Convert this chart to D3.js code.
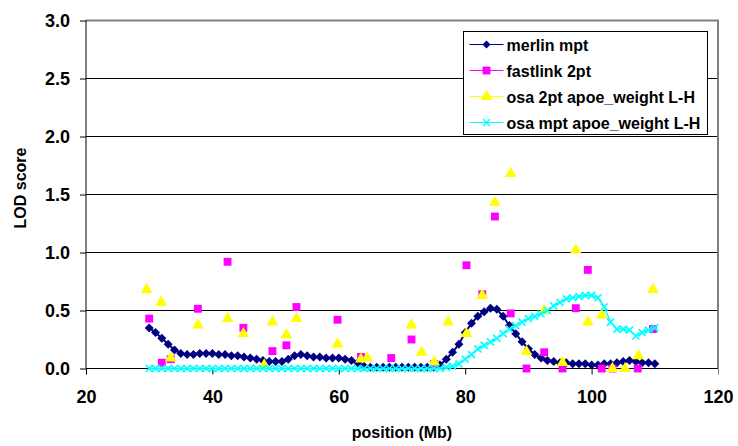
<!DOCTYPE html>
<html lang="en">
<head>
<meta charset="utf-8">
<title>LOD score by position</title>
<script src="https://d3js.org/d3.v7.min.js"></script>
<style>
  html, body { margin: 0; padding: 0; background: #fff; }
  svg { display: block; font-family: "Liberation Sans", Arial, sans-serif; }
  .tick text { font-size: 18px; font-weight: bold; fill: #000; }
</style>
</head>
<body>
<div id="chart"></div>
<script>
  // ---- data ----
  const yTicks = [0, 0.5, 1.0, 1.5, 2.0, 2.5, 3.0];
  const xTicks = [20, 40, 60, 80, 100, 120];

  // 1 Mb grid for the two multipoint curves
  const gridPos = d3.range(30, 111);

  const merlinLod = [
    0.35, 0.31, 0.26, 0.21, 0.16, 0.13, 0.12, 0.12, 0.13, 0.13,
    0.13, 0.12, 0.12, 0.11, 0.11, 0.10, 0.09, 0.08, 0.07, 0.06,
    0.06, 0.06, 0.08, 0.11, 0.12, 0.11, 0.10, 0.10, 0.09, 0.09,
    0.09, 0.08, 0.07, 0.05, 0.02, 0.01, 0.01, 0.01, 0.01, 0.01,
    0.01, 0.01, 0.01, 0.01, 0.01, 0.01, 0.03, 0.08, 0.14, 0.21,
    0.31, 0.39, 0.45, 0.49, 0.52, 0.51, 0.45, 0.37, 0.30, 0.23,
    0.17, 0.12, 0.09, 0.07, 0.06, 0.05, 0.05, 0.04, 0.04, 0.04,
    0.03, 0.03, 0.04, 0.04, 0.05, 0.06, 0.07, 0.06, 0.05, 0.05, 0.04
  ];

  const osaMptLod = [
    0, 0, 0, 0, 0, 0, 0, 0, 0, 0,
    0, 0, 0, 0, 0, 0, 0, 0, 0, 0,
    0, 0, 0, 0, 0, 0, 0, 0, 0, 0,
    0, 0, 0, 0, 0, 0, 0, 0, 0, 0,
    0, 0, 0, 0, 0, 0, 0, 0.01, 0.02, 0.04,
    0.08, 0.12, 0.17, 0.20, 0.23, 0.26, 0.30, 0.34, 0.37, 0.40,
    0.43, 0.45, 0.47, 0.50, 0.54, 0.57, 0.60, 0.61, 0.62, 0.63,
    0.63, 0.61, 0.53, 0.40, 0.34, 0.34, 0.33, 0.28, 0.31, 0.33, 0.35
  ];

  const fastlinkPos = [30, 32, 33.4, 37.7, 42.4, 44.9, 49.5, 51.7, 53.3, 59.8, 63.5, 68.3, 71.5, 75.1,
                       80.2, 82.7, 84.7, 87.2, 89.7, 92.5, 95.4, 97.5, 99.4, 101.6, 103.3, 107.3, 109.7];
  const fastlinkLod = [0.43, 0.05, 0.08, 0.515, 0.92, 0.35, 0.15, 0.20, 0.53, 0.42, 0.10, 0.09, 0.25, 0.04,
                       0.89, 0.64, 1.31, 0.475, 0.0, 0.14, 0.0, 0.52, 0.85, 0.0, 0.0, 0.0, 0.34];

  const osa2ptPos = [29.6, 31.9, 33.4, 37.7, 42.4, 44.9, 48.2, 49.5, 51.7, 53.3, 59.8, 63.5, 64.5, 71.5,
                     73.1, 75.1, 77.3, 80.2, 82.7, 84.7, 87.2, 89.7, 92.5, 95.4, 97.5, 99.4, 101.6,
                     103.3, 105.3, 107.4, 109.7];
  const osa2ptLod = [0.68, 0.57, 0.09, 0.375, 0.43, 0.30, 0.03, 0.40, 0.29, 0.43, 0.21, 0.08, 0.09, 0.375,
                     0.14, 0.055, 0.40, 0.30, 0.63, 1.43, 1.68, 0.145, 0.50, 0.05, 1.02, 0.40, 0.46,
                     0.0, 0.0, 0.11, 0.68];

  const seriesNames = ["merlin mpt", "fastlink 2pt", "osa 2pt apoe_weight L-H", "osa mpt apoe_weight L-H"];
  const seriesColors = ["#000080", "#ff00ff", "#ffff00", "#00ffff"];

  // ---- layout ----
  const width = 738, height = 446;
  const plotLeft = 86, plotRight = 718, plotTop = 20.5, plotBottom = 368.5;

  const svg = d3.select("#chart").append("svg")
    .attr("width", width)
    .attr("height", height);

  const x = d3.scaleLinear().domain([20, 120]).range([plotLeft, plotRight]);
  const y = d3.scaleLinear().domain([0, 3]).range([plotBottom, plotTop]);

  // gridlines
  svg.append("g")
    .selectAll("line")
    .data(yTicks.slice(1, -1))
    .join("line")
      .attr("x1", plotLeft).attr("x2", plotRight)
      .attr("y1", d => y(d)).attr("y2", d => y(d))
      .attr("stroke", "#000").attr("stroke-width", 1);

  // plot border (top/right grey)
  svg.append("path")
    .attr("d", `M${plotLeft},${plotTop}H${plotRight}V${plotBottom}`)
    .attr("fill", "none")
    .attr("stroke", "#808080")
    .attr("stroke-width", 2);

  // axes
  const yAxis = d3.axisLeft(y)
    .tickValues(yTicks)
    .tickSize(6)
    .tickPadding(10)
    .tickFormat(d3.format(".1f"));
  svg.append("g")
    .attr("transform", `translate(${plotLeft},0)`)
    .call(yAxis)
    .call(g => g.select(".domain").attr("d", `M0,${plotBottom}V${plotTop}`));

  const xAxis = d3.axisBottom(x)
    .tickValues(xTicks)
    .tickSize(6)
    .tickPadding(16)
    .tickFormat(d3.format("d"));
  svg.append("g")
    .attr("transform", `translate(0,${plotBottom})`)
    .call(xAxis)
    .call(g => g.select(".domain").attr("d", `M${plotLeft},0H${plotRight}`))
    .call(g => g.selectAll(".tick").filter(d => d === 120).select("line").attr("stroke", "#808080"));

  // titles
  svg.append("text")
    .attr("x", 402).attr("y", 438)
    .attr("text-anchor", "middle")
    .style("font", "bold 16px 'Liberation Sans', Arial, sans-serif")
    .text("position (Mb)");

  svg.append("text")
    .attr("transform", "translate(26,188) rotate(-90)")
    .attr("text-anchor", "middle")
    .style("font", "bold 16px 'Liberation Sans', Arial, sans-serif")
    .text("LOD score");

  // marker helpers
  const diamond = r => `M0,${-r}L${r},0L0,${r}L${-r},0Z`;
  const square = d3.symbol().type(d3.symbolSquare).size(62);
  const triangle = d3.symbol().type(d3.symbolTriangle).size(60);
  const crossPath = "M-3.5,-3.5L3.5,3.5M-3.5,3.5L3.5,-3.5";

  const line = d3.line().x(d => x(d[0])).y(d => y(d[1]));
  const plot = svg.append("g");

  // merlin mpt
  const merlinData = gridPos.map((p, i) => [p, merlinLod[i]]);
  plot.append("path")
    .datum(merlinData)
    .attr("d", line)
    .attr("fill", "none")
    .attr("stroke", seriesColors[0])
    .attr("stroke-width", 2);
  plot.append("g")
    .selectAll("path")
    .data(merlinData)
    .join("path")
      .attr("transform", d => `translate(${x(d[0])},${y(d[1])})`)
      .attr("d", diamond(4.5))
      .attr("fill", seriesColors[0]);

  // fastlink 2pt
  plot.append("g")
    .selectAll("path")
    .data(fastlinkPos.map((p, i) => [p, fastlinkLod[i]]))
    .join("path")
      .attr("transform", d => `translate(${x(d[0])},${y(d[1])})`)
      .attr("d", square)
      .attr("fill", seriesColors[1]);

  // osa 2pt
  plot.append("g")
    .selectAll("path")
    .data(osa2ptPos.map((p, i) => [p, osa2ptLod[i]]))
    .join("path")
      .attr("transform", d => `translate(${x(d[0])},${y(d[1])})`)
      .attr("d", triangle)
      .attr("fill", seriesColors[2]);

  // osa mpt
  const osaMptData = gridPos.map((p, i) => [p, osaMptLod[i]]);
  plot.append("path")
    .datum(osaMptData)
    .attr("d", line)
    .attr("fill", "none")
    .attr("stroke", seriesColors[3])
    .attr("stroke-width", 1.5);
  plot.append("g")
    .selectAll("path")
    .data(osaMptData)
    .join("path")
      .attr("transform", d => `translate(${x(d[0])},${y(d[1])})`)
      .attr("d", crossPath)
      .attr("fill", "none")
      .attr("stroke", seriesColors[3])
      .attr("stroke-width", 1.7);

  // legend
  const legend = svg.append("g").attr("transform", "translate(463.5,31.5)");
  legend.append("rect")
    .attr("width", 244).attr("height", 103)
    .attr("fill", "#fff")
    .attr("stroke", "#000")
    .attr("stroke-width", 1);

  const markerPaths = [diamond(4), square(), triangle(), null];
  seriesNames.forEach((name, i) => {
    const row = legend.append("g").attr("transform", `translate(0,${13 + i * 26})`);
    row.append("line")
      .attr("x1", 6).attr("x2", 40)
      .attr("stroke", seriesColors[i]).attr("stroke-width", 1);
    const m = row.append("path").attr("transform", "translate(23,0)");
    if (markerPaths[i]) {
      m.attr("d", markerPaths[i]).attr("fill", seriesColors[i]);
    } else {
      m.attr("d", crossPath).attr("fill", "none").attr("stroke", seriesColors[i]).attr("stroke-width", 1.3);
    }
    row.append("text")
      .attr("x", 43).attr("y", 6)
      .style("font", "bold 16px 'Liberation Sans', Arial, sans-serif")
      .text(name);
  });
</script>
</body>
</html>
